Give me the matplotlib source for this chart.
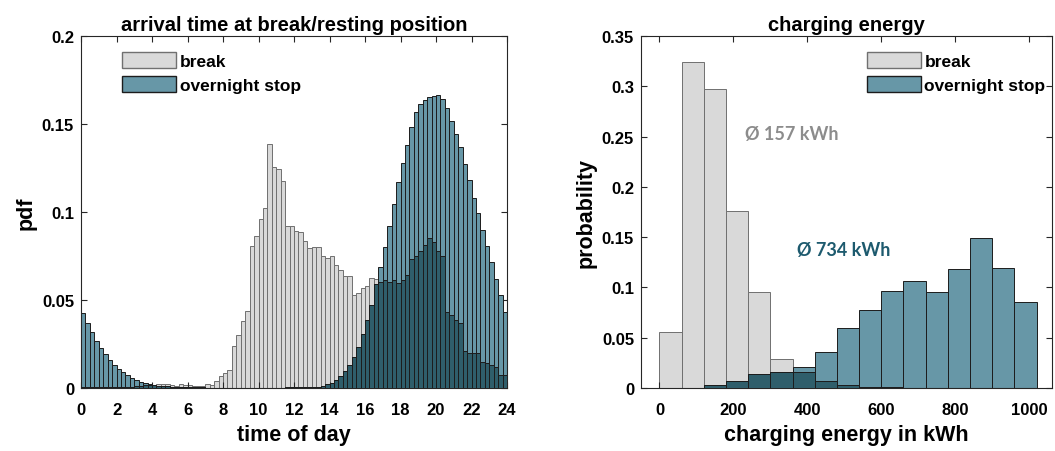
import numpy as np
import matplotlib
matplotlib.use("Agg")
import matplotlib.pyplot as plt
from matplotlib.patches import Patch

plt.rcParams['font.family'] = ['Liberation Sans', 'DejaVu Sans']
plt.rcParams['font.weight'] = 'bold'
plt.rcParams['axes.titleweight'] = 'bold'
plt.rcParams['axes.labelweight'] = 'bold'

# arrival time pdf, 15 min bins (one row per hour)
hour_edges = np.arange(0, 24, 0.25)
break_pdf = [
    0.0005, 0.0005, 0.0005, 0.0005,
    0.0005, 0.0005, 0.0005, 0.0005,
    0.0005, 0.0005, 0.0006, 0.0008,
    0.0010, 0.0012, 0.0015, 0.0015,
    0.0018, 0.0020, 0.0022, 0.0025,
    0.0017, 0.0012, 0.0023, 0.0017,
    0.0017, 0.0012, 0.0009, 0.0012,
    0.0023, 0.0017, 0.0040, 0.0066,
    0.0085, 0.0104, 0.0240, 0.0303,
    0.0380, 0.0440, 0.0805, 0.0861,
    0.0960, 0.1020, 0.1386, 0.1256,
    0.1246, 0.1178, 0.0918, 0.0920,
    0.0890, 0.0884, 0.0833, 0.0797,
    0.0801, 0.0801, 0.0752, 0.0739,
    0.0752, 0.0701, 0.0672, 0.0638,
    0.0634, 0.0530, 0.0540, 0.0568,
    0.0577, 0.0625, 0.0620, 0.0600,
    0.0612, 0.0602, 0.0616, 0.0597,
    0.0616, 0.0641, 0.0735, 0.0750,
    0.0780, 0.0815, 0.0852, 0.0830,
    0.0780, 0.0748, 0.0432, 0.0413,
    0.0384, 0.0369, 0.0208, 0.0199,
    0.0199, 0.0201, 0.0148, 0.0142,
    0.0132, 0.0117, 0.0076, 0.0076,
]
overnight_pdf = [
    0.0426, 0.0369, 0.0316, 0.0269,
    0.0227, 0.0195, 0.0161, 0.0131,
    0.0110, 0.0091, 0.0072, 0.0057,
    0.0047, 0.0036, 0.0028, 0.0023,
    0.0017, 0.0013, 0.0011, 0.0009,
    0.0008, 0.0007, 0.0006, 0.0005,
    0.0004, 0.0004, 0.0003, 0.0003,
    0.0002, 0.0002, 0.0002, 0.0002,
    0.0002, 0.0002, 0.0002, 0.0002,
    0.0002, 0.0002, 0.0002, 0.0002,
    0.0002, 0.0002, 0.0002, 0.0002,
    0.0002, 0.0002, 0.0003, 0.0003,
    0.0003, 0.0004, 0.0005, 0.0006,
    0.0007, 0.0008, 0.0011, 0.0020,
    0.0030, 0.0048, 0.0067, 0.0098,
    0.0131, 0.0174, 0.0235, 0.0305,
    0.0384, 0.0472, 0.0590, 0.0688,
    0.0803, 0.0920, 0.1048, 0.1168,
    0.1280, 0.1382, 0.1485, 0.1568,
    0.1614, 0.1636, 0.1653, 0.1661,
    0.1663, 0.1644, 0.1591, 0.1519,
    0.1445, 0.1369, 0.1274, 0.1180,
    0.1080, 0.0994, 0.0899, 0.0805,
    0.0714, 0.0621, 0.0526, 0.0432,
]

# charging energy, 60 kWh bins
energy_edges = np.arange(0, 1020, 60)
break_prob = [0.0554, 0.3238, 0.2973, 0.1757, 0.0958, 0.0288, 0.0160, 0.0066, 0.0030,
              0.0010, 0.0008, 0, 0, 0, 0, 0, 0]
overnight_prob = [0, 0, 0.0033, 0.0066, 0.0139, 0.0156, 0.0205, 0.0355, 0.0597,
                  0.0779, 0.0964, 0.1061, 0.0951, 0.1183, 0.1495, 0.1193, 0.0858]

labels = ['break', 'overnight stop']
mean_labels = ['Ø 157 kWh', 'Ø 734 kWh']

c_break = '#d9d9d9'
c_break_edge = '#707070'
c_night = '#6797a7'
c_night_edge = '#1c1c1c'
c_overlap = '#2f5e6b'
c_axis = '#262626'


def draw_hist(ax, edges, a, b, width):
    a = np.array(a)
    b = np.array(b)
    ax.bar(edges, a, width=width, align='edge', color=c_break,
           edgecolor=c_break_edge, linewidth=0.7, zorder=1)
    ax.bar(edges, b, width=width, align='edge', color=c_night,
           edgecolor=c_night_edge, linewidth=0.7, zorder=2)
    ax.bar(edges, np.minimum(a, b), width=width, align='edge', color=c_overlap,
           edgecolor=c_night_edge, linewidth=0.7, zorder=3)


def style_axes(ax):
    ax.tick_params(direction='in', top=True, right=True, length=4,
                   labelsize=12, colors=c_axis, labelcolor='black')
    ax.tick_params(axis='x', pad=10)
    ax.tick_params(axis='y', pad=5)
    for s in ax.spines.values():
        s.set_color(c_axis)
        s.set_linewidth(0.8)


def add_legend(ax, x):
    handles = [Patch(facecolor=c_break, edgecolor=c_break_edge, linewidth=1),
               Patch(facecolor=c_night, edgecolor=c_night_edge, linewidth=1)]
    ax.legend(handles, labels, loc='upper left', bbox_to_anchor=(x, 0.955),
              frameon=False, borderpad=0, borderaxespad=0,
              handlelength=3.1, handleheight=1.1, handletextpad=0.2,
              labelspacing=0.38, prop={'weight': 'bold', 'size': 12.5})


fig = plt.figure(figsize=(10.55, 4.52), dpi=100)

ax1 = fig.add_axes([0.0768, 0.1394, 0.4038, 0.7788])
draw_hist(ax1, hour_edges, break_pdf, overnight_pdf, 0.25)
ax1.set_xlim(0, 24)
ax1.set_ylim(0, 0.2)
ax1.set_xticks(range(0, 25, 2))
ax1.set_yticks([0, 0.05, 0.1, 0.15, 0.2])
ax1.set_yticklabels(['0', '0.05', '0.1', '0.15', '0.2'])
ax1.set_xlabel('time of day', fontsize=15.5, labelpad=5)
ax1.set_ylabel('pdf', fontsize=15.5, labelpad=4)
ax1.set_title('arrival time at break/resting position', fontsize=14.5, pad=4)
style_axes(ax1)
add_legend(ax1, 0.097)

ax2 = fig.add_axes([0.6076, 0.1394, 0.3896, 0.7788])
draw_hist(ax2, energy_edges, break_prob, overnight_prob, 60)
ax2.set_xlim(-50, 1062)
ax2.set_ylim(0, 0.35)
ax2.set_xticks(range(0, 1001, 200))
ax2.set_yticks(np.arange(0, 0.351, 0.05))
ax2.set_yticklabels(['0', '0.05', '0.1', '0.15', '0.2', '0.25', '0.3', '0.35'])
ax2.set_xlabel('charging energy in kWh', fontsize=15.5, labelpad=5)
ax2.set_ylabel('probability', fontsize=15.5, labelpad=4)
ax2.set_title('charging energy', fontsize=14.5, pad=4)
style_axes(ax2)
add_legend(ax2, 0.55)

ax2.text(232, 0.2526, mean_labels[0], color='#8c8c8c', fontsize=13,
         fontweight='bold', family=['Lato', 'DejaVu Sans'], va='center', zorder=5)
ax2.text(372, 0.138, mean_labels[1], color='#1d5a6e', fontsize=13,
         fontweight='bold', family=['Lato', 'DejaVu Sans'], va='center', zorder=5)

fig.savefig('out.png', dpi=100)
